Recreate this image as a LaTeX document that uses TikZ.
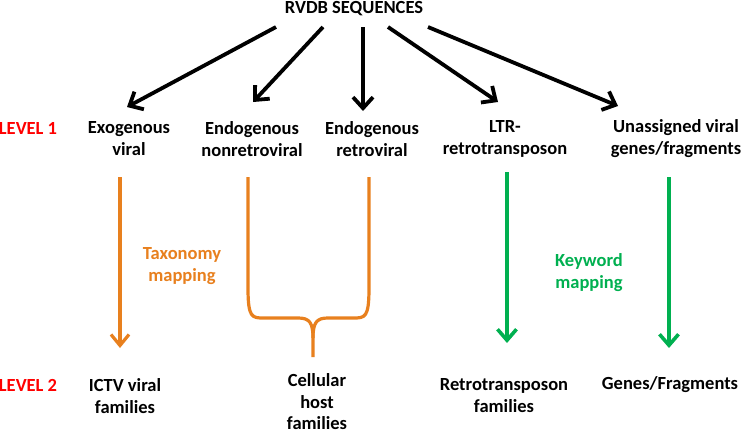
\documentclass[tikz,border=0pt]{standalone}
\usepackage{fontspec}
\setmainfont{Carlito}
\usetikzlibrary{arrows.meta}
\definecolor{lvlred}{RGB}{255,0,0}
\definecolor{orng}{RGB}{232,128,30}
\definecolor{grn}{RGB}{0,176,80}
\begin{document}
\begin{tikzpicture}[x=1pt,y=-1pt,
  lbl/.style={font=\fontsize{18.5}{22}\selectfont\bfseries, align=center, inner sep=0pt},
  lvl/.style={lbl, text=lvlred},
  blk/.style={line width=3.8pt, draw=black, -{Straight Barb[length=11pt,width=20pt]}},
  orarr/.style={line width=3.2pt, draw=orng, -{Straight Barb[length=11pt,width=18pt]}},
  grarr/.style={line width=3.6pt, draw=grn, -{Straight Barb[length=11pt,width=19pt]}},
  bracepath/.style={line width=3.2pt, draw=orng, line join=round}]
\useasboundingbox (0,0) rectangle (742,434);
\fill[white] (0,0) rectangle (742,434);

% top
\node[lbl] (top) at (354,9) {RVDB SEQUENCES};

% level labels
\node[lvl] (lvlA) at (28,128) {LEVEL 1};
\node[lvl] (lvlB) at (28,385) {LEVEL 2};

% level 1 nodes
\node[lbl] (exo) at (129,139) {Exogenous\\viral};
\node[lbl] (endn) at (252,139) {Endogenous\\nonretroviral};
\node[lbl] (endr) at (372,139) {Endogenous\\retroviral};
\node[lbl] (ltr) at (505,139) {LTR-\\retrotransposon};
\node[lbl] (una) at (676,139) {Unassigned viral\\genes/fragments};

% level 2 nodes
\node[lbl] (ictv) at (125,396) {ICTV viral\\families};
\node[lbl, font=\fontsize{18.5}{21.5}\selectfont\bfseries] (cell) at (317,402) {Cellular\\host\\families};
\node[lbl] (rtf) at (504,396) {Retrotransposon\\families};
\node[lbl] (gen) at (670,385) {Genes/Fragments};

% mapping labels
\node[lbl, text=orng] (tax) at (182,266) {Taxonomy\\mapping};
\node[lbl, text=grn] (kw) at (589,273) {Keyword\\mapping};

% black arrow endpoints
\coordinate (s1) at (276,27); \coordinate (e1) at (127,107);
\coordinate (s2) at (323,27); \coordinate (e2) at (253,102);
\coordinate (s3) at (363,27); \coordinate (e3) at (363,111);
\coordinate (s4) at (388,27); \coordinate (e4) at (498,102);
\coordinate (s5) at (428,27); \coordinate (e5) at (618,106);
\draw[blk] (s1) -- (e1);
\draw[blk] (s2) -- (e2);
\draw[blk] (s3) -- (e3);
\draw[blk] (s4) -- (e4);
\draw[blk] (s5) -- (e5);

% orange arrow
\coordinate (o1s) at (120,177); \coordinate (o1e) at (120,348);
\draw[orarr] (o1s) -- (o1e);

% brace
\coordinate (bl) at (248,177);
\coordinate (br) at (369,177);
\coordinate (btip) at (313,357);
\draw[bracepath] (bl) -- (248,288) .. controls (248,318) and (252,318) .. (264,318)
  -- (298,318) .. controls (309,318) and (313,322) .. (313,338) -- (btip);
\draw[bracepath] (br) -- (369,288) .. controls (369,318) and (365,318) .. (353,318)
  -- (328,318) .. controls (317,318) and (313,322) .. (313,338);

% green arrows
\coordinate (g1s) at (507,172); \coordinate (g1e) at (507,343);
\coordinate (g2s) at (669,177); \coordinate (g2e) at (669,348);
\draw[grarr] (g1s) -- (g1e);
\draw[grarr] (g2s) -- (g2e);
\end{tikzpicture}
\end{document}
